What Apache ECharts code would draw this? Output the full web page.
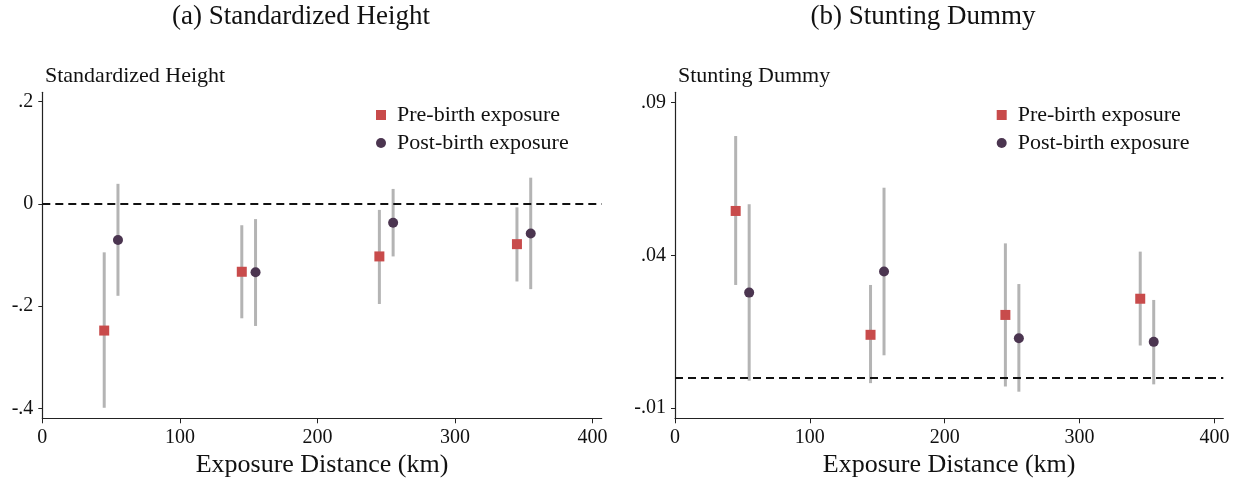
<!DOCTYPE html>
<html>
<head>
<meta charset="utf-8">
<script src="https://cdn.jsdelivr.net/npm/echarts@6/dist/echarts.min.js"></script>
<style>
  html, body { margin: 0; padding: 0; background: #fff; }
  #chart { width: 1241px; height: 478px; }
</style>
</head>
<body>
<div id="chart"></div>
<script>
// exposure distance (km) for each bin
const distPre = [45, 145, 245, 345]
const distPost = [55, 155, 255, 355]
const xTicks = [0, 100, 200, 300, 400]

// (a) standardized height
const heightPre = [-0.248, -0.133, -0.103, -0.079]
const heightPreLo = [-0.399, -0.224, -0.196, -0.152]
const heightPreHi = [-0.095, -0.042, -0.012, -0.007]
const heightPost = [-0.071, -0.134, -0.037, -0.058]
const heightPostLo = [-0.180, -0.239, -0.103, -0.167]
const heightPostHi = [0.039, -0.030, 0.029, 0.051]
const heightTicks = [-0.4, -0.2, 0, 0.2]

// (b) stunting dummy
const stuntPre = [0.0545, 0.0140, 0.0205, 0.0258]
const stuntPreLo = [0.0303, -0.0018, -0.0029, 0.0105]
const stuntPreHi = [0.0790, 0.0303, 0.0439, 0.0412]
const stuntPost = [0.0278, 0.0347, 0.0129, 0.0117]
const stuntPostLo = [-0.0010, 0.0073, -0.0046, -0.0022]
const stuntPostHi = [0.0567, 0.0621, 0.0306, 0.0254]
const stuntTicks = [-0.01, 0.04, 0.09]

const FONT = '"Liberation Serif", "DejaVu Serif", serif'
const RED = '#c84b4b'
const PURPLE = '#4b3550'
const BAR = '#b4b4b4'
const AXIS = '#222'

// .2 / -.4 style labels (no leading zero)
function stataNum(v) {
  if (Math.abs(v) < 1e-9) return '0'
  let s = String(+v.toFixed(3))
  return s.replace(/^(-?)0\./, '$1.')
}

function zip(xs, ys) {
  return xs.map((x, i) => [x, ys[i]])
}
function ciData(xs, lo, hi) {
  return xs.map((x, i) => [x, lo[i], hi[i]])
}

function ciSeries(idx, data) {
  return {
    type: 'custom',
    xAxisIndex: idx,
    yAxisIndex: idx,
    z: 1,
    silent: true,
    data: data,
    encode: { x: 0, y: [1, 2] },
    renderItem: (params, api) => {
      const a = api.coord([api.value(0), api.value(1)])
      const b = api.coord([api.value(0), api.value(2)])
      return {
        type: 'line',
        shape: { x1: a[0], y1: a[1], x2: b[0], y2: b[1] },
        style: { stroke: BAR, lineWidth: 3 }
      }
    }
  }
}

function pointSeries(idx, name, symbol, color, data, withZero) {
  const s = {
    type: 'scatter',
    name: name,
    xAxisIndex: idx,
    yAxisIndex: idx,
    symbol: symbol,
    symbolSize: 10,
    z: 3,
    itemStyle: { color: color, opacity: 1 },
    data: data
  }
  if (withZero) {
    s.markLine = {
      silent: true,
      symbol: 'none',
      label: { show: false },
      lineStyle: { color: '#111', type: [8, 5], width: 1.8 },
      data: [{ yAxis: 0 }]
    }
  }
  return s
}

function xAxisOpt(idx) {
  return {
    type: 'value',
    gridIndex: idx,
    min: 0,
    max: 406.6,
    name: 'Exposure Distance (km)',
    nameLocation: 'middle',
    nameGap: 29,
    nameTextStyle: { fontFamily: FONT, fontSize: 26, color: '#111' },
    splitLine: { show: false },
    axisLine: { onZero: false, lineStyle: { color: AXIS, width: 1.2 } },
    axisTick: { length: 5, customValues: xTicks, lineStyle: { color: AXIS } },
    axisLabel: {
      customValues: xTicks,
      margin: 9,
      fontFamily: FONT,
      fontSize: 20,
      color: '#111'
    }
  }
}

function yAxisOpt(idx, min, max, ticks) {
  return {
    type: 'value',
    gridIndex: idx,
    min: min,
    max: max,
    splitLine: { show: false },
    axisLine: { onZero: false, lineStyle: { color: AXIS, width: 1.2 } },
    axisTick: { length: 4, customValues: ticks, lineStyle: { color: AXIS } },
    axisLabel: {
      customValues: ticks,
      margin: 9,
      fontFamily: FONT,
      fontSize: 20,
      color: '#111',
      formatter: stataNum
    }
  }
}

function legendOpt(left) {
  return {
    left: left,
    top: 104,
    padding: 0,
    orient: 'vertical',
    itemWidth: 10,
    itemHeight: 10,
    itemGap: 6,
    selectedMode: false,
    textStyle: { fontFamily: FONT, fontSize: 22, color: '#111', lineHeight: 22, padding: [0, 0, 0, 6] },
    data: [
      { name: 'Pre-birth exposure', icon: 'rect' },
      { name: 'Post-birth exposure', icon: 'circle' }
    ]
  }
}

function label(text, x, y, size, align) {
  return {
    type: 'text',
    x: x,
    y: y,
    style: {
      text: text,
      fontFamily: FONT,
      fontSize: size,
      fill: '#111',
      textAlign: align,
      textVerticalAlign: 'middle'
    }
  }
}

const option = {
  animation: false,
  backgroundColor: '#fff',
  graphic: [
    label('(a) Standardized Height', 301, 17, 27, 'center'),
    label('(b) Stunting Dummy', 923, 17, 27, 'center'),
    label('Standardized Height', 45, 76, 22, 'left'),
    label('Stunting Dummy', 678, 76, 22, 'left')
  ],
  legend: [legendOpt(376), legendOpt(996.7)],
  grid: [
    { left: 42.3, right: 639.3, top: 92.3, bottom: 59.7, outerBoundsMode: 'none' },
    { left: 675, right: 17.7, top: 92.3, bottom: 59.7, outerBoundsMode: 'none' }
  ],
  xAxis: [xAxisOpt(0), xAxisOpt(1)],
  yAxis: [
    yAxisOpt(0, -0.4196, 0.218, heightTicks),
    yAxisOpt(1, -0.0133, 0.0933, stuntTicks)
  ],
  series: [
    ciSeries(0, ciData(distPre, heightPreLo, heightPreHi)),
    ciSeries(0, ciData(distPost, heightPostLo, heightPostHi)),
    pointSeries(0, 'Pre-birth exposure', 'rect', RED, zip(distPre, heightPre), true),
    pointSeries(0, 'Post-birth exposure', 'circle', PURPLE, zip(distPost, heightPost), false),
    ciSeries(1, ciData(distPre, stuntPreLo, stuntPreHi)),
    ciSeries(1, ciData(distPost, stuntPostLo, stuntPostHi)),
    pointSeries(1, 'Pre-birth exposure', 'rect', RED, zip(distPre, stuntPre), true),
    pointSeries(1, 'Post-birth exposure', 'circle', PURPLE, zip(distPost, stuntPost), false)
  ]
}

const myChart = echarts.init(document.getElementById('chart'))
myChart.setOption(option)
</script>
</body>
</html>
